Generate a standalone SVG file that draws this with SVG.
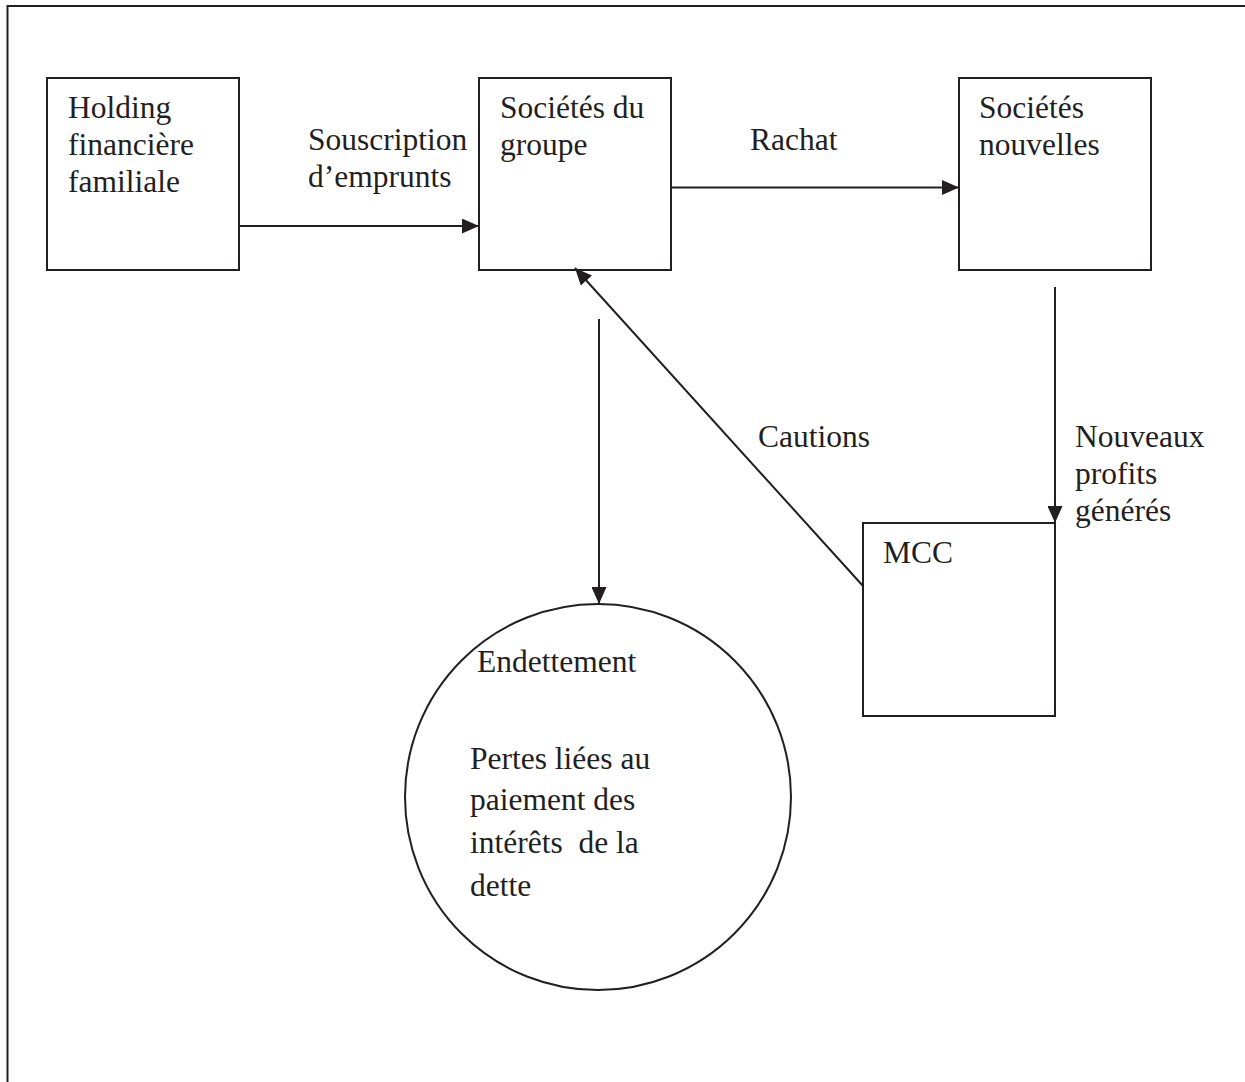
<svg xmlns="http://www.w3.org/2000/svg" width="1245" height="1082" viewBox="0 0 1245 1082">
  <style>
    .box { fill: #ffffff; stroke: #231f20; stroke-width: 2; }
    .edge { fill: none; stroke: #231f20; stroke-width: 2; }
    text { font-family: "Liberation Serif", "Times New Roman", serif; font-size: 31.5px; fill: #231f20; white-space: pre; }
  </style>
  <defs>
    <marker id="arrow" viewBox="0 0 17 15" refX="17" refY="7.5" markerWidth="17" markerHeight="15" markerUnits="userSpaceOnUse" orient="auto">
      <path d="M0,0 L17,7.5 L0,15 Z" fill="#231f20"/>
    </marker>
  </defs>
  <rect width="1245" height="1082" fill="#ffffff"/>
  <!-- page frame -->
  <path class="edge" d="M7.5,1082 V6 H1245"/>

  <g id="holding">
    <rect class="box" x="47" y="78" width="192" height="192"/>
    <text x="68" y="118">Holding</text>
    <text x="68" y="155">financière</text>
    <text x="68" y="192">familiale</text>
  </g>

  <g id="societes-groupe">
    <rect class="box" x="479" y="78" width="192" height="192"/>
    <text x="500" y="118">Sociétés du</text>
    <text x="500" y="155">groupe</text>
  </g>

  <g id="societes-nouvelles">
    <rect class="box" x="959" y="78" width="192" height="192"/>
    <text x="979" y="118">Sociétés</text>
    <text x="979" y="155">nouvelles</text>
  </g>

  <g id="mcc">
    <rect class="box" x="863" y="523" width="192" height="193"/>
    <text x="883" y="563">MCC</text>
  </g>

  <g id="endettement">
    <circle class="box" cx="598" cy="797" r="193"/>
    <text x="477" y="672">Endettement</text>
    <text x="470" y="769">Pertes liées au</text>
    <text x="470" y="810">paiement des</text>
    <text x="470" y="853">intérêts  de la</text>
    <text x="470" y="896">dette</text>
  </g>

  <g id="connectors">
    <line class="edge" x1="239" y1="226" x2="479" y2="226" marker-end="url(#arrow)"/>
    <line class="edge" x1="671" y1="187.5" x2="959" y2="187.5" marker-end="url(#arrow)"/>
    <line class="edge" x1="1055" y1="287" x2="1055" y2="523" marker-end="url(#arrow)"/>
    <line class="edge" x1="863" y1="586" x2="575" y2="268" marker-end="url(#arrow)"/>
    <line class="edge" x1="599" y1="319" x2="599" y2="604" marker-end="url(#arrow)"/>
  </g>

  <g id="labels">
    <text x="308" y="150">Souscription</text>
    <text x="308" y="187">d’emprunts</text>
    <text x="750" y="150">Rachat</text>
    <text x="758" y="447">Cautions</text>
    <text x="1075" y="447">Nouveaux</text>
    <text x="1075" y="484">profits</text>
    <text x="1075" y="521">générés</text>
  </g>
</svg>
